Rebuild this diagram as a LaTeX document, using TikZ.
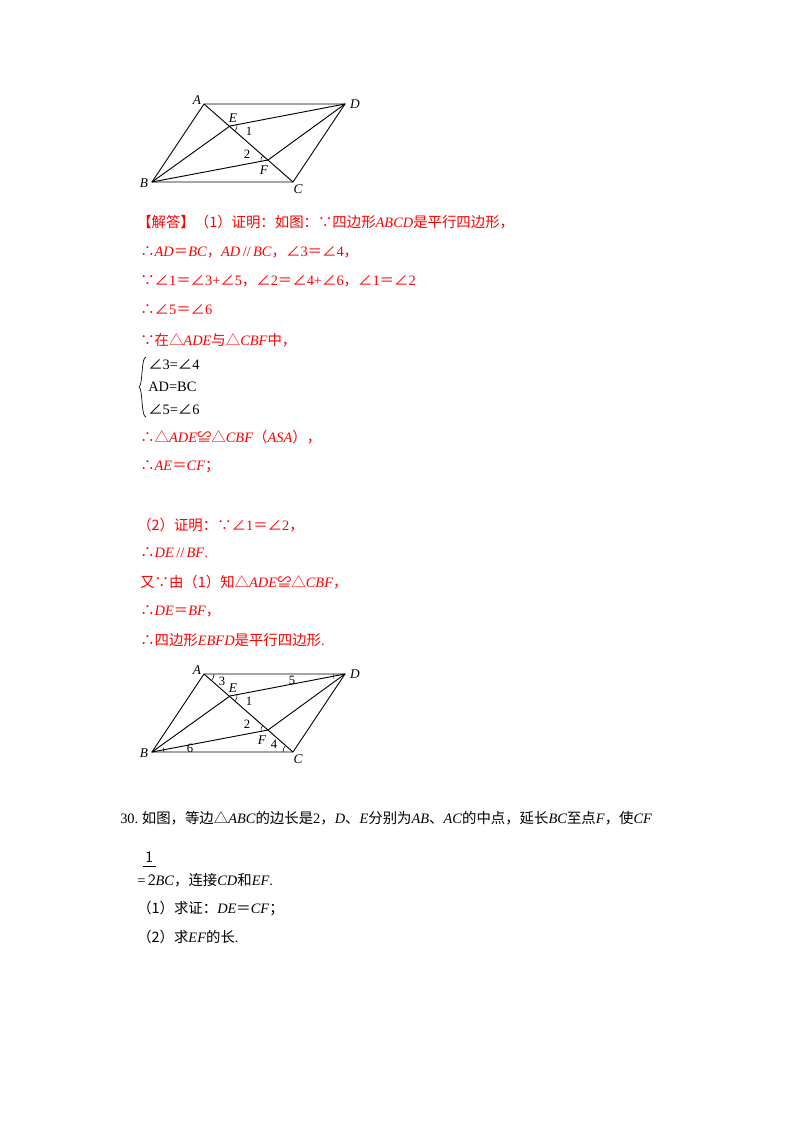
\documentclass[tikz,border=0pt]{standalone}
\usepackage{fontspec}
\setmainfont{Liberation Serif}
\newfontfamily\cjk{Noto Sans CJK SC}
\newcommand{\zh}[1]{{\cjk #1}}
\newcommand{\mi}[1]{\textit{#1}}
\begin{document}
\begin{tikzpicture}[x=0.75pt,y=-0.75pt,
  ln/.style={anchor=west,inner sep=0pt,font=\fontsize{10.8}{12}\selectfont},
  rl/.style={ln,text=red},
  lbl/.style={inner sep=0pt,font=\fontsize{10}{12}\selectfont\itshape},
  num/.style={inner sep=0pt,font=\fontsize{9.5}{11}\selectfont},
  seg/.style={line width=0.7pt}]
\useasboundingbox[fill=white] (0,0) rectangle (800,1132);
% figure 1
\begin{scope}
\coordinate (A) at (204,104); \coordinate (D) at (345,104);
\coordinate (B) at (152,182); \coordinate (C) at (293,182);
\coordinate (E) at (230,126); \coordinate (F) at (268,160);
\draw[seg] (A)--(D)--(C)--(B)--cycle;
\draw[seg] (A)--(C); \draw[seg] (B)--(E)--(D); \draw[seg] (B)--(F)--(D);
\node[lbl] (la) at (197,100) {A}; \node[lbl] (ld) at (355,104) {D};
\node[lbl] (lb) at (144,183) {B}; \node[lbl] (lc) at (298,189) {C};
\node[lbl] (le) at (233,118) {E}; \node[lbl] (lf) at (264,170) {F};
\node[num] (n1) at (249,131) {1}; \node[num] (n2) at (247,154) {2};
\draw (E) ++(-11:7) arc (-11:41:7);
\draw (F) ++(169:7) arc (169:221:7);
\end{scope}
% text block 1
\node[rl] (t1) at (137,222) {\zh{【解答】（1）证明：如图：∵四边形}\mi{ABCD}\zh{是平行四边形，}};
\node[rl] (t2) at (140,252) {\zh{∴}\mi{AD}\zh{＝}\mi{BC}\zh{，}\mi{AD}\,//\,\mi{BC}\zh{，∠}3\zh{＝∠}4\zh{，}};
\node[rl] (t3) at (140,281) {\zh{∵∠}1\zh{＝∠}3+\zh{∠}5\zh{，∠}2\zh{＝∠}4+\zh{∠}6\zh{，∠}1\zh{＝∠}2};
\node[rl] (t4) at (140,310) {\zh{∴∠}5\zh{＝∠}6};
\node[rl] (t5) at (140,340) {\zh{∵在△}\mi{ADE}\zh{与△}\mi{CBF}\zh{中，}};
\node[ln] (b1) at (148,365) {\zh{∠}3=\zh{∠}4};
\node[ln] (b2) at (148,387) {AD=BC};
\node[ln] (b3) at (148,410) {\zh{∠}5=\zh{∠}6};
\draw[line width=0.5pt] (146,357) .. controls (141,357) and (143,385) .. (139,387) .. controls (143,389) and (141,417) .. (146,417);
\node[rl] (t6) at (140,437) {\zh{∴△}\mi{ADE}\zh{≌△}\mi{CBF}\zh{（}\mi{ASA}\zh{），}};
\node[rl] (t7) at (140,467) {\zh{∴}\mi{AE}\zh{＝}\mi{CF}\zh{；}};
\node[rl] (t8) at (137,525) {\zh{（2）证明：∵∠}1\zh{＝∠}2\zh{，}};
\node[rl] (t9) at (140,553) {\zh{∴}\mi{DE}\,//\,\mi{BF}.};
\node[rl] (t10) at (140,582) {\zh{又∵由（1）知△}\mi{ADE}\zh{≌△}\mi{CBF}\zh{，}};
\node[rl] (t11) at (140,611) {\zh{∴}\mi{DE}\zh{＝}\mi{BF}\zh{，}};
\node[rl] (t12) at (140,640) {\zh{∴四边形}\mi{EBFD}\zh{是平行四边形}.};
% figure 2
\begin{scope}
\coordinate (A2) at (204,674); \coordinate (D2) at (345,674);
\coordinate (B2) at (152,752); \coordinate (C2) at (293,752);
\coordinate (E2) at (230,696); \coordinate (F2) at (268,730);
\draw[seg] (A2)--(D2)--(C2)--(B2)--cycle;
\draw[seg] (A2)--(C2); \draw[seg] (B2)--(E2)--(D2); \draw[seg] (B2)--(F2)--(D2);
\node[lbl] (la2) at (197,670) {A}; \node[lbl] (ld2) at (355,674) {D};
\node[lbl] (lb2) at (144,753) {B}; \node[lbl] (lc2) at (298,759) {C};
\node[lbl] (le2) at (233,688) {E}; \node[lbl] (lf2) at (262,740) {F};
\node[num] (m1) at (249,701) {1}; \node[num] (m2) at (247,724) {2};
\node[num] (m3) at (222,681) {3}; \node[num] (m4) at (274,744) {4};
\node[num] (m5) at (292,680) {5}; \node[num] (m6) at (190,748) {6};
\draw (E2) ++(-11:7) arc (-11:41:7);
\draw (F2) ++(169:7) arc (169:221:7);
\draw (A2) ++(0:10) arc (0:41:10);
\draw (C2) ++(180:10) arc (180:221:10);
\draw (D2) ++(180:12) arc (180:158:12);
\draw (B2) ++(0:12) arc (0:-22:12);
\end{scope}
% question
\node[ln] (q1) at (120,818) {30.\ \zh{如图，等边△}\mi{ABC}\zh{的边长是}2\zh{，}\mi{D}\zh{、}\mi{E}\zh{分别为}\mi{AB}\zh{、}\mi{AC}\zh{的中点，延长}\mi{BC}\zh{至点}\mi{F}\zh{，使}\mi{CF}};
\node[ln,font=\fontsize{12}{14}\selectfont\sffamily] (fn) at (145,857) {1};
\draw[line width=0.5pt] (143,866) -- (156,866);
\node[ln] (q2) at (137,880) {=\,{\fontsize{12}{14}\selectfont\sffamily 2}\mi{BC}\zh{，连接}\mi{CD}\zh{和}\mi{EF}.};
\node[ln] (q3) at (137,908) {\zh{（1）求证：}\mi{DE}\zh{＝}\mi{CF}\zh{；}};
\node[ln] (q4) at (137,937) {\zh{（2）求}\mi{EF}\zh{的长}.};
\end{tikzpicture}
\end{document}
